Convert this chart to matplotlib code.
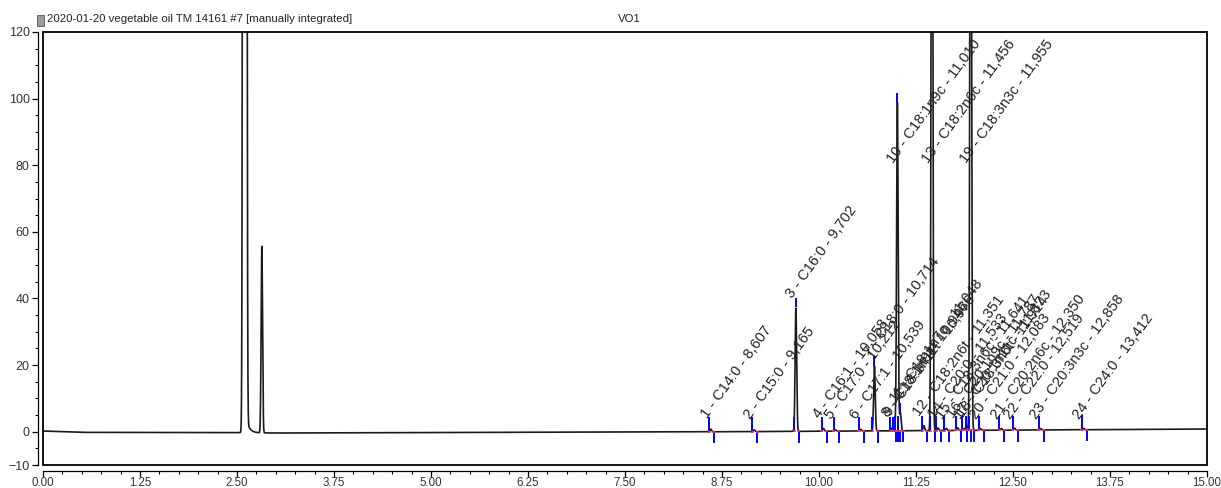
import numpy as np
import matplotlib
matplotlib.use("Agg")
import matplotlib.pyplot as plt
from matplotlib.patches import Rectangle
from matplotlib.ticker import MultipleLocator, FixedLocator, FormatStrFormatter

# ---------------- data ----------------
title_left = "2020-01-20 vegetable oil TM 14161 #7 [manually integrated]"
title_right = "VO1"

peak_names = ["C14:0", "C15:0", "C16:0", "C16:1", "C17:0", "C17:1", "C18:0",
              "C18:1n9t", "C18:1n11t", "C18:1n9c", "C18:1n7c", "C18:2n6t",
              "C18:2n6c", "C20:0", "C18:3n6c", "C20:1n9c", "C20:1n11c",
              "C18:3n6t", "C18:3n3c", "C21:0", "C20:2n6c", "C22:0",
              "C20:3n3c", "C24:0"]
peak_times = [8.607, 9.165, 9.702, 10.058, 10.212, 10.539, 10.714,
              10.946, 10.976, 11.010, 11.048, 11.351,
              11.456, 11.533, 11.641, 11.787, 11.873,
              11.914, 11.955, 12.083, 12.350, 12.519,
              12.858, 13.412]
peak_heights = [0.8, 0.5, 37.0, 0.8, 0.4, 0.5, 19.5,
                1.0, 1.5, 98.5, 5.5, 1.5,
                260.0, 0.8, 0.6, 0.8, 0.6,
                1.0, 260.0, 0.5, 0.5, 0.6,
                0.4, 0.4]

# unlabelled early peaks (solvent + one more)
early_times = [2.600, 2.820]
early_heights = [5000.0, 56.0]
solvent_tail_height = 4.0

# baseline drift
drift_times = [0.0, 0.5, 2.5, 3.0, 6.0, 9.0, 12.0, 15.0]
drift_values = [0.2, -0.2, -0.3, -0.4, -0.2, 0.0, 0.4, 0.8]

x_ticks = [0.00, 1.25, 2.50, 3.75, 5.00, 6.25, 7.50, 8.75, 10.00, 11.25,
           12.50, 13.75, 15.00]
y_ticks = [-10, 0, 20, 40, 60, 80, 100, 120]

# ---------------- build trace ----------------
t = np.linspace(0, 15, 30001)
sig = np.interp(t, drift_times, drift_values)
sigma_main = 0.010
for rt, h in zip(early_times, early_heights):
    s = 0.012 if h > 1000 else 0.009
    sig = sig + h * np.exp(-0.5 * ((t - rt) / s) ** 2)
tail = np.where(t > early_times[0] + 0.02,
                solvent_tail_height * np.exp(-(t - early_times[0] - 0.02) / 0.04), 0)
sig = sig + tail
for rt, h in zip(peak_times, peak_heights):
    sig = sig + h * np.exp(-0.5 * ((t - rt) / sigma_main) ** 2)

# ---------------- figure ----------------
W, H = 1221, 488
fig = plt.figure(figsize=(W / 100, H / 100), dpi=100)
ax = fig.add_axes([43 / W, 23 / H, (1207 - 43) / W, (465 - 32) / H])

ax.plot(t, sig, color="#1a1a1a", lw=1.2, zorder=3)

base_at = lambda x: np.interp(x, drift_times, drift_values)
for i, (rt, h) in enumerate(zip(peak_times, peak_heights)):
    ts, te = rt - 0.025, rt + 0.04
    b0, b1 = base_at(ts), base_at(te)
    ax.plot([ts, ts], [b0, b0 + 4.0], color="#0000ff", lw=1.4, zorder=4)
    ax.plot([te, te], [b1, b1 - 3.2], color="#0000ff", lw=1.4, zorder=4)
    ax.plot([ts - 0.005, ts + 0.01], [b0, b0], color="#ff4040", lw=1.2, zorder=4)
    ax.plot([te - 0.01, te + 0.005], [b1, b1], color="#ff4040", lw=1.2, zorder=4)
    if 3 < h < 115:
        ax.plot([rt, rt], [h + 0.6, h + 2.8], color="#0000ff", lw=1.4, zorder=4)
    ly = min(h, 80) + (2.5 if h < 80 else 0)
    label = f"{i + 1} - {peak_names[i]} - {rt:.3f}".replace(".", ",")
    ax.text(rt - 0.02, ly, label, rotation=54, rotation_mode="anchor",
            ha="left", va="bottom", fontsize=10.5, color="#222222",
            family=["Liberation Sans", "DejaVu Sans"], zorder=5, clip_on=False)

ax.set_xlim(0, 15)
ax.set_ylim(-10, 120)

# frame + offset axes
for s in ("top", "right"):
    ax.spines[s].set_visible(False)
ax.spines["left"].set_position(("outward", 3.6))
ax.spines["bottom"].set_position(("outward", 4.0))
ax.spines["left"].set_linewidth(0.9)
ax.spines["bottom"].set_linewidth(0.9)
ax.add_patch(Rectangle((0, 0), 1, 1, transform=ax.transAxes, fill=False,
                       lw=1.3, edgecolor="black", clip_on=False, zorder=6))

ax.xaxis.set_major_locator(FixedLocator(x_ticks))
ax.xaxis.set_minor_locator(MultipleLocator(0.25))
ax.xaxis.set_major_formatter(FormatStrFormatter("%.2f"))
ax.yaxis.set_major_locator(FixedLocator(y_ticks))
ax.yaxis.set_minor_locator(MultipleLocator(5))

ax.tick_params(axis="both", which="major", direction="out", length=4.5, width=0.9,
               colors="black", labelcolor="#333333")
ax.tick_params(axis="both", which="minor", direction="out", length=2.5, width=0.8)
ax.tick_params(axis="x", labelsize=8.3, pad=0.5)
ax.tick_params(axis="y", labelsize=9, pad=1.5)
for lab in ax.get_xticklabels():
    lab.set_family(["Liberation Sans Narrow", "Liberation Sans", "DejaVu Sans"])
for lab in ax.get_yticklabels():
    lab.set_family(["Liberation Sans", "DejaVu Sans"])

# header
fig.add_artist(Rectangle((37 / W, 1 - 26 / H), 7 / W, 11 / H, transform=fig.transFigure,
                         facecolor="#9a9a9a", edgecolor="#555555", lw=0.6))
fig.text(47 / W, 1 - 19 / H, title_left, ha="left", va="center", fontsize=8.2,
         color="#222222", family=["Liberation Sans", "DejaVu Sans"])
fig.text(629 / W, 1 - 19 / H, title_right, ha="center", va="center", fontsize=8.2,
         color="#222222", family=["Liberation Sans", "DejaVu Sans"])

fig.savefig("out.png", dpi=100)
